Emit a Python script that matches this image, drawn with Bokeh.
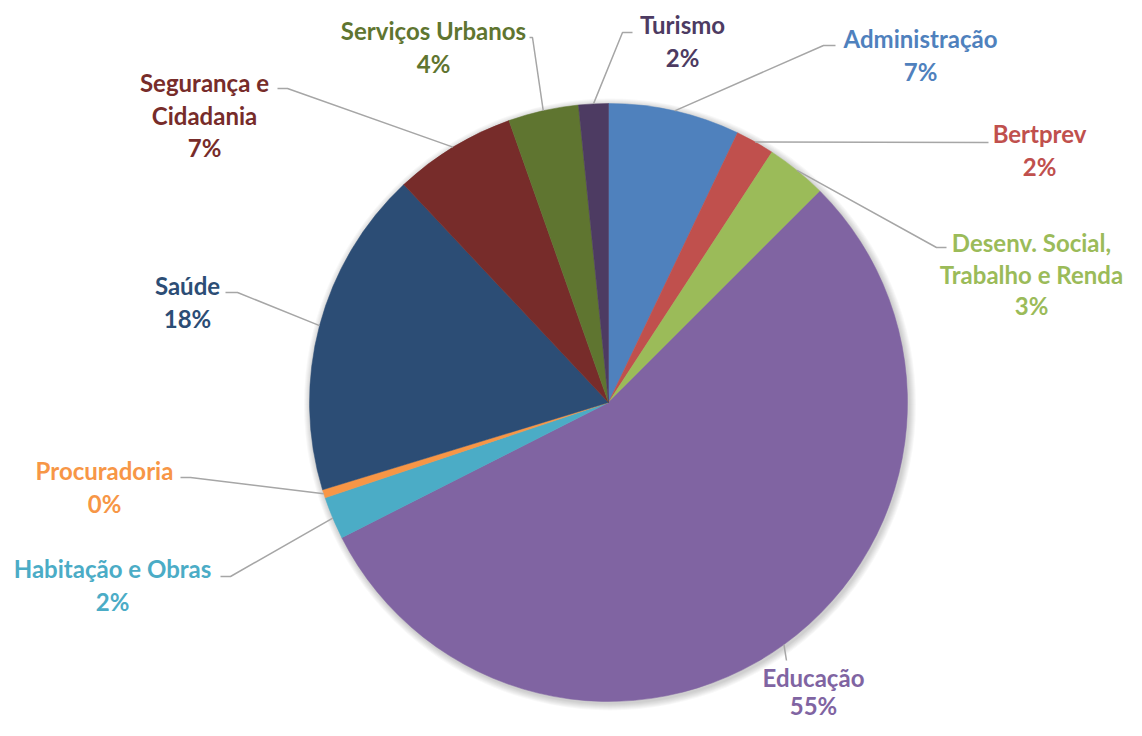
import math
from bokeh.plotting import figure
from bokeh.models import Range1d, ColumnDataSource
from bokeh.core.properties import value
from bokeh.embed import file_html
from bokeh.resources import INLINE

# ---- data ----
categories = ["Administração", "Bertprev", "Desenv. Social,\nTrabalho e Renda", "Educação",
              "Habitação e Obras", "Procuradoria", "Saúde", "Segurança e\nCidadania",
              "Serviços Urbanos", "Turismo"]
shares = [7.1, 2.1, 3.3, 55.0, 2.3, 0.45, 17.7, 6.6, 3.8, 1.6]
colors = ["#4F81BD", "#C0504D", "#9BBB59", "#8064A2", "#4BACC6",
          "#F79646", "#2C4D75", "#772C2A", "#5F7530", "#4D3B62"]

# ---- layout (reference pixel coordinates, y downwards) ----
W, H = 1126, 720
CX, CY, R = 608, 402, 299
label_pos = [(920, 38), (1039, 133), (1031, 242), (813, 677), (112, 568),
             (104, 470), (187, 285), (204, 82), (433, 30), (682, 24)]
line_gaps = [32.5, 32.5, 31.5, 28, 32.5, 32.5, 32.5, 32.5, 32.5, 32.5]
elbows = [[(823, 45), (835, 45)], [(988, 142)], [(936, 247), (946, 247)], [(786, 660)],
          [(230, 576), (220, 576)], [(190, 477), (180, 477)], [(237, 292), (225, 292)],
          [(287, 88), (277, 88)], [(532, 37), (529, 37)], [(622, 32), (632, 32)]]
FONT = "Lato"
FSIZE = "24px"


def fy(y):
    return H - y


p = figure(width=W, height=H, x_range=Range1d(0, W), y_range=Range1d(0, H),
           output_backend="svg", toolbar_location=None, min_border=0,
           min_border_left=0, min_border_right=0, min_border_top=0, min_border_bottom=0)
p.axis.visible = False
p.grid.visible = False
p.outline_line_color = None
p.background_fill_color = "white"

# soft shadow
for k in range(1, 8):
    p.circle(x=[CX + 1.5], y=[fy(CY + 2)], radius=R + k, fill_color="black",
             fill_alpha=0.028, line_color=None)

total = sum(shares)
starts, ends, mids = [], [], []
c = 0.0
for s in shares:
    c0 = c / total
    c += s
    c1 = c / total
    starts.append(math.pi / 2 - 2 * math.pi * c0)
    ends.append(math.pi / 2 - 2 * math.pi * c1)
    mids.append(math.pi / 2 - 2 * math.pi * (c0 + c1) / 2)

src = ColumnDataSource(dict(start=starts, end=ends, color=colors))
p.wedge(x=CX, y=fy(CY), radius=R, start_angle="start", end_angle="end",
        direction="clock", fill_color="color", line_color="color", line_width=0.5,
        source=src)

# leader lines
for m, el in zip(mids, elbows):
    xs = [CX + R * math.cos(m)] + [e[0] for e in el]
    ys = [fy(CY) + R * math.sin(m)] + [fy(e[1]) for e in el]
    p.line(xs, ys, line_color="#A6A6A6", line_width=1.5)

# labels
tx, ty, tt, tc = [], [], [], []
for name, s, col, (lx, ly), gap in zip(categories, shares, colors, label_pos, line_gaps):
    lines = name.split("\n") + [f"{round(s / total * 100):.0f}%"]
    for i, ln in enumerate(lines):
        tx.append(lx)
        ty.append(fy(ly + i * gap))
        tt.append(ln)
        tc.append(col)
p.text(x=tx, y=ty, text=tt, text_color=tc, text_align="center", text_baseline="middle",
       text_font=value(FONT), text_font_style="bold", text_font_size=FSIZE)

open("out.html", "w").write(file_html(p, INLINE))
